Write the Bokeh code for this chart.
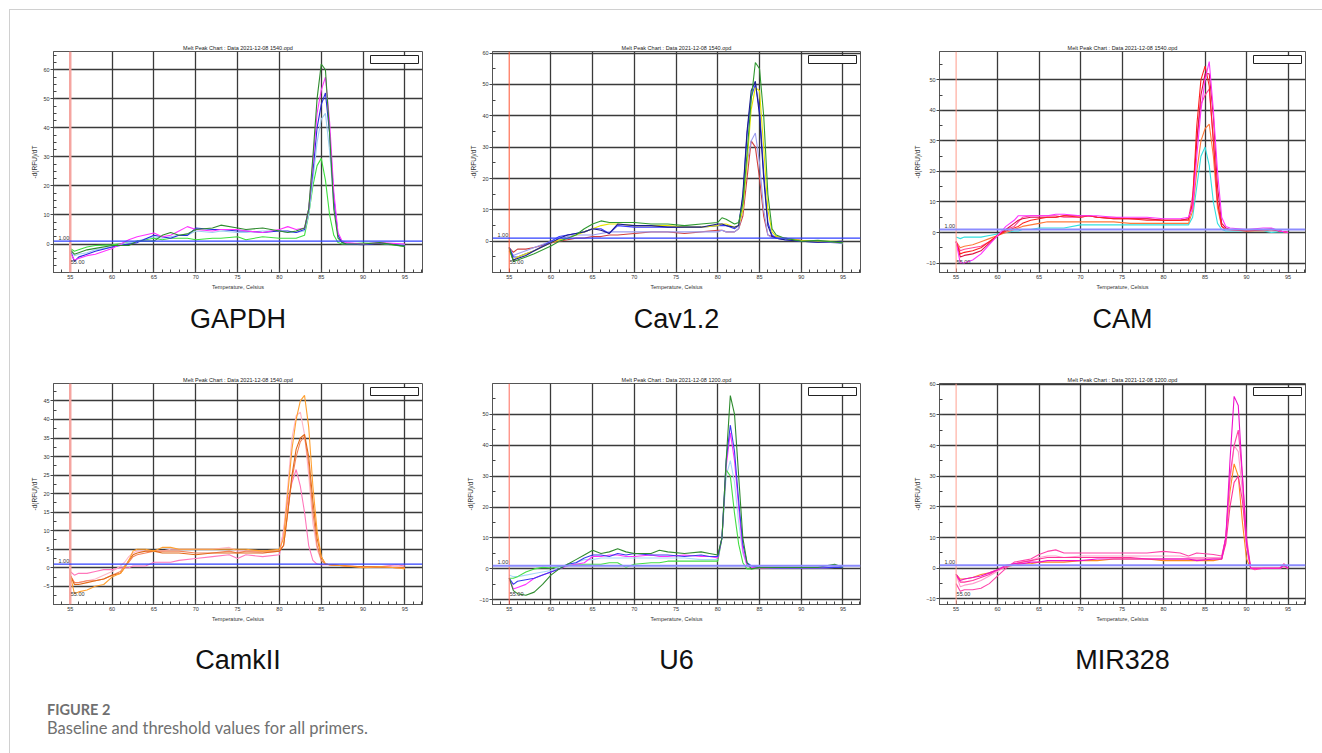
from bokeh.plotting import figure
from bokeh.models import Range1d, SingleIntervalTicker, FixedTicker, Span, Label, BoxAnnotation, Title, Div
from bokeh.layouts import row, column
from bokeh.embed import file_html
from bokeh.resources import INLINE

# ---------------- data ----------------
panel_names = ["GAPDH", "Cav1.2", "CAM", "CamkII", "U6", "MIR328"]
chart_titles = ["Melt Peak Chart : Data 2021-12-08 1540.opd"] * 4 + ["Melt Peak Chart : Data 2021-12-08 1200.opd"] * 2

# GAPDH
t1 = [55, 55.5, 56, 57, 58, 60, 62, 63, 65, 66, 67, 68, 69, 70, 72, 73, 75, 76, 78, 80, 81, 82, 83, 83.5, 84, 84.5, 85, 85.5, 86, 86.5, 87, 87.5, 88, 90, 92, 95]
gapdh_ltgreen = [-1.5, -2.5, -2, -1, -0.5, -0.3, 0.5, 1, 2, 1.5, 2, 2, 2, 1.5, 2, 2, 2.5, 1.5, 2.5, 2, 2, 2, 3, 10, 20, 27, 29.5, 22, 10, 3, 0.5, 0, 0, 0.3, 0.2, -0.8]
gapdh_ltblue = [-2, -4, -3.5, -3, -2, -1, 0.5, 1, 2.5, 2, 2.5, 3, 3, 4.5, 4, 4.5, 4, 4, 4.5, 4.5, 4, 4, 4.5, 10, 22, 35, 43, 45, 32, 14, 3, 0.5, 0.2, 0, 0.3, -0.3]
gapdh_blue = [-2, -6, -4.5, -3.5, -2.5, -1, 0, 0.5, 3, 2.5, 2, 3, 3, 5.5, 5, 5, 4.5, 4.5, 4, 4.5, 4.5, 4, 5, 12, 25, 40, 48, 52, 38, 16, 3, 0.5, 0, -0.2, 0.3, -0.5]
gapdh_magenta = [-3, -5.5, -5, -4, -3.5, -1.5, 1.5, 2.5, 3.8, 2.5, 3, 4.5, 6, 5, 4.5, 5, 5, 4.5, 4, 5, 6, 5, 5.5, 12, 28, 45, 53, 57.5, 42, 18, 4, 1, 0.5, 0, 0.5, 0]
gapdh_dkgreen = [-2, -3.5, -3, -2, -1.5, -0.5, -0.5, 1, 1, 3, 4, 3, 3.5, 5, 5.5, 6.5, 5.5, 5, 5.5, 4.5, 4, 4.5, 5.5, 12, 30, 50, 62, 60, 38, 12, 2, 0.5, 0, 0, 0.5, -0.8]

# Cav1.2
t2 = [55, 55.5, 56, 57, 58, 60, 61, 62, 63, 64, 65, 66, 67, 68, 70, 72, 74, 76, 78, 80, 80.5, 81, 82, 82.5, 83, 83.5, 84, 84.5, 85, 85.5, 86, 86.5, 87, 88, 90, 92, 95]
cav_red = [-2, -3.5, -2.5, -2.5, -2, -0.5, 0, 0.5, 1, 1, 1.5, 1.5, 2, 2, 2.5, 3, 3, 2.5, 3, 3.5, 3.5, 3, 3, 4, 8, 20, 32, 30, 20, 8, 2, 1.5, 1.5, 1, 0.3, 0, -0.5]
cav_ltpurple = [-2, -4.5, -4, -3, -2, 0, 0.5, 1.5, 2, 2, 2, 2.5, 3, 3, 3, 3, 3, 3, 3, 3, 3.5, 3, 3, 4, 10, 25, 32, 34.5, 25, 10, 2, 1, 1, 1, 0, 0, -0.8]
cav_blue = [-2, -5, -5, -4, -3, 0, 1.5, 2, 2.5, 3, 4, 4, 2.5, 5, 4.5, 4.5, 4.5, 4.5, 4.5, 5, 5, 5, 4, 5, 14, 34, 46, 50, 42, 22, 6, 2, 1, 0.5, 0, -0.3, 0]
cav_yellow = [-3, -6, -5, -4, -3, -0.5, 0.5, 1, 2, 3, 4, 5, 5.5, 5.5, 5, 5, 5, 4.5, 4.5, 5, 5.5, 5.5, 4.5, 5, 10, 25, 42, 49, 48, 30, 10, 3, 1.5, 1, 0.2, 0, 0]
cav_navy = [-2, -6, -5.5, -4.5, -3, -0.5, 1, 2, 2.5, 3, 4, 3.5, 2.5, 5.5, 5, 5, 4.5, 4.5, 4.5, 5.5, 5.5, 5, 4.5, 5, 15, 35, 48, 51, 40, 20, 5, 1.5, 1, 0.5, 0, -0.3, 0]
cav_dkgreen = [-2, -6.5, -6, -5, -4, -1.5, 0, 1, 2, 4, 5.5, 6.5, 6, 6, 6, 5.5, 5.5, 5, 5.5, 6, 7.5, 7, 5.5, 6, 12, 28, 45, 57, 55, 40, 15, 4, 2, 1, 0, 0.3, -0.5]

# CAM
t3 = [55, 55.5, 56, 57, 58, 59, 60, 61, 62, 62.5, 63, 64, 65, 66, 67, 68, 70, 71, 72, 74, 76, 78, 80, 82, 83, 83.5, 84, 84.5, 85, 85.5, 86, 86.5, 87, 87.5, 88, 90, 92, 93, 94, 95]
cam_cyan = [-1.5, -2, -1.5, -1.5, -1.5, -1, -0.5, 0, 0.5, 0.5, 1, 1, 1.5, 1.5, 1.5, 1.5, 2.5, 2.5, 2.5, 2.5, 2.5, 2.5, 2.5, 2.5, 2.5, 5, 15, 25, 28, 22, 10, 3, 1, 0.5, 0.5, 0.5, 0.5, 0, 0.3, 0]
cam_orange = [-3, -5, -4.5, -4, -3, -2, -1, 0, 1, 1.5, 2, 2.5, 3, 3.5, 3.5, 3.5, 3.5, 3.5, 3.5, 3.5, 3, 3, 3, 3, 3, 7, 20, 30, 34, 35.5, 25, 8, 2, 1, 0.8, 0.5, 0.5, 0.8, 0.5, 0]
cam_pink = [-3, -6, -5.5, -5, -4.5, -3, -1, 1, 2, 3.5, 5, 5.5, 5.5, 5.5, 5.5, 5, 5, 5.5, 5, 5, 4.5, 4.5, 4, 4, 4.5, 12, 30, 42, 45, 47, 30, 10, 2, 1, 1, 0.8, 1, 1, 0.5, 0]
cam_crimson = [-3, -8, -7.5, -7, -6, -3.5, -1, 1, 3, 4, 4.5, 5, 5, 5, 5, 5.5, 5.5, 5.5, 5, 4.5, 4.5, 4.5, 4, 4, 4.5, 9, 30, 45, 52, 52, 38, 15, 3, 1.5, 1, 1, 1, 1.2, 0.5, 0]
cam_red = [-3, -7, -6.5, -6, -5, -3, -1, 0.5, 1.5, 2, 3, 4, 4.5, 5, 5, 5.5, 5, 5.5, 5, 4.5, 4.5, 4, 4, 4, 4, 10, 35, 50, 54.5, 48, 30, 10, 2, 1, 1, 0.5, 0.8, 1, 0.5, 0]
cam_magenta = [-3, -10, -10, -9, -7, -4, -1, 2, 4, 5.5, 5.5, 5.5, 5.5, 5.5, 6, 6, 5.5, 5.5, 5.5, 5, 5, 5, 4.5, 4.5, 5, 8, 25, 40, 50, 56, 40, 20, 5, 2, 1.5, 1, 1.5, 1.5, 0.5, 0]

# CamkII
t4 = [55, 55.5, 56, 57, 58, 59, 60, 61, 61.5, 62, 62.5, 63, 64, 65, 66, 67, 68, 70, 72, 74, 75, 76, 78, 80, 80.5, 81, 81.5, 82, 82.5, 83, 83.5, 84, 84.5, 85, 85.5, 86, 88, 90, 92, 94, 95]
camk_pink = [-1, -2, -1.5, -1.5, -1, -0.5, -0.5, 0, 0, 0, 0.5, 0.5, 0.5, 1.5, 1.5, 1.5, 2, 2.5, 3, 3.5, 2.5, 3.5, 3, 3.5, 10, 18, 23, 26.5, 22, 15, 6, 2, 1, 0.8, 0.8, 0.8, 0.5, 0.3, 0.3, 0.8, 0.5]
camk_ltpink = [-2, -4, -4, -3.5, -3, -2, -1, 0.5, 1.5, 3, 4, 4.5, 4.5, 4.5, 4.5, 5, 5, 5, 5, 5.5, 4.5, 4.5, 4, 4.5, 10, 22, 35, 41, 42, 36, 25, 12, 5, 2, 1, 0.8, 0.5, 0.3, 0.3, 0.5, 0]
camk_salmon = [-2, -4, -4, -3.5, -3.5, -3, -2, -1, 0.5, 1.5, 3, 3.5, 4, 4.5, 4.5, 4.5, 4.5, 4, 4, 4.5, 4, 4.5, 4.5, 4.5, 6, 15, 24, 30, 34, 35.5, 28, 15, 6, 2, 1, 0.8, 0.5, 0.3, 0.3, 0, 0]
camk_dkorange = [-2, -4.5, -4.5, -4, -3.5, -3, -2, -1.5, 0, 2, 3.5, 4, 4.5, 4.5, 4, 4, 4, 3.5, 4, 4, 4, 4, 4, 4.5, 6, 15, 25, 32, 35, 36, 30, 18, 8, 3, 1, 0.8, 0.5, 0.2, 0.3, 0, 0]
camk_orange = [-2, -7, -6.5, -6, -5, -4.5, -2.5, -1.5, 0, 2, 4.5, 5, 5, 4.5, 5.5, 5.5, 5, 5, 5, 5, 5, 5, 4.5, 5, 8, 20, 32, 40, 45, 46.5, 38, 22, 10, 3, 1, 0.8, 0.5, 0, 0.3, 0, -0.3]

# U6
t5 = [55, 55.5, 56, 57, 58, 59, 60, 61, 62, 63, 64, 65, 66, 67, 68, 69, 70, 72, 73, 74, 76, 78, 79, 80, 80.5, 81, 81.5, 82, 82.5, 83, 83.5, 84, 85, 87, 90, 92, 94, 95]
u6_ltblue = [-2, -2.5, -2.5, -2, -1.5, -1, -0.5, 0.5, 1.5, 2, 3, 3, 3.5, 3.5, 3.5, 3.5, 3.5, 3.5, 3.5, 3.5, 3.5, 3, 3, 3, 10, 30, 35, 28, 15, 5, 1.5, 1, 0.5, 0.3, 0.3, 0.3, 0.5, 0.5]
u6_ltgreen = [-3, -3, -2.5, -1, 0, 0.5, 0.3, 0.8, 1, 1.5, 1.5, 1.5, 1.5, 2, 2, 0.5, 1.5, 2, 2, 2.5, 2.5, 2.5, 2.5, 2.5, 10, 32, 30, 18, 8, 2, 0, 0, 0.3, 0.3, 0.3, 0.3, 0.5, 0.5]
u6_magenta = [-3, -6.5, -6, -5, -3, -2, -1, 0, 1, 1.5, 2, 4, 4, 4.5, 4.5, 4, 4, 4.5, 4, 4, 4.5, 4, 4, 3.5, 10, 33, 44, 35, 20, 6, 1, 0.5, 0.3, 0.3, 0.3, 0.3, 0.5, 0.5]
u6_blue = [-3, -5, -4, -3.5, -3, -2, -1, 0, 1.5, 2, 3.5, 4.5, 4.5, 4, 5, 4.5, 5, 4.5, 4.5, 4.5, 4, 4.5, 4, 4, 10, 35, 46.5, 38, 22, 8, 2, 1, 0.5, 0.3, 0.3, 0.3, 0.5, 0.5]
u6_dkgreen = [-3, -7, -8, -8.5, -7.5, -5, -2, 0, 1.5, 3, 4.5, 6, 5, 5.5, 6.5, 5.5, 5, 5, 6, 5.5, 5, 5.5, 5, 4.5, 10, 35, 56, 50, 30, 10, 2, 0, 0.5, 0.5, 0.5, 0.5, 1.5, 0.5]

# MIR328
t6 = [55, 55.5, 56, 57, 58, 59, 60, 61, 62, 63, 64, 65, 66, 67, 68, 70, 72, 74, 76, 78, 80, 82, 83, 84, 86, 87, 87.5, 88, 88.5, 89, 89.5, 90, 90.5, 91, 92, 93, 94, 94.5, 95]
mir_orange = [-2, -3.5, -3.5, -3, -2, -1.5, -0.5, 0.5, 1, 1.5, 1.5, 2, 2, 2, 2, 2.5, 2.5, 3, 3, 3, 2.5, 2.5, 2.5, 2.5, 2.5, 3, 10, 25, 34, 30, 15, 3, 0, 0, 0, 0, 0, 0.5, 0]
mir_ltpink = [-2, -6, -5.5, -5, -4, -2.5, -1, 0.5, 1.5, 2, 2.5, 3.5, 4, 4, 3.5, 4, 4, 4, 4, 4, 4, 4, 3.5, 3.5, 3.5, 3.5, 10, 28, 40, 38, 25, 6, 0, 0, 0, 0, 0, 0.5, 0]
mir_hotpink = [-2, -4.5, -4.5, -4, -3, -2, -0.5, 0.5, 1.5, 2, 2.5, 3, 3.5, 3.5, 3.5, 3.5, 3.5, 3.5, 3.5, 3, 3, 3, 3, 3, 3, 3, 8, 20, 28, 30, 22, 8, 0, 0, 0, 0, 0, 1, 0]
mir_pink = [-5, -7.5, -7, -7, -6.5, -5, -2.5, 0, 2, 2.5, 3, 4.5, 5.5, 6, 5, 5, 5, 5, 5, 5, 5.5, 5, 4, 5, 4.5, 4, 10, 30, 40, 45, 30, 10, 0, -0.5, 0, 0, 0, 1.5, 0]
mir_magenta = [-2, -4, -3.5, -3, -2.5, -1.5, -0.5, 1, 1.5, 1.5, 2, 2, 2.5, 2.5, 2.5, 2.5, 3, 3, 3, 3, 3, 3, 3, 2.5, 3, 3, 10, 35, 56, 53, 30, 8, 0, 0, 0, 0, 0, 1, 0]

BASELINE_T = 55.0
THRESHOLD = 1.0
X_START, X_END = 53.0, 97.1
X_GRID_TICKS = [60, 65, 70, 75, 80, 85, 90, 95]

SMALL = "Liberation Sans"
SMALL_SIZE = "5.5px"


def make_panel(title_text, name, temps, curves, y_start, y_end, y_interval, y_minor,
               width, height, left, right, top, bottom, name_standoff,
               base_color, base_width, thr_color, thr_width):
    p = figure(width=width, height=height,
               x_range=Range1d(X_START, X_END), y_range=Range1d(y_start, y_end),
               output_backend="svg", toolbar_location=None,
               min_border_left=left, min_border_right=right,
               min_border_top=top, min_border_bottom=bottom)
    fw = width - left - right
    fh = height - top - bottom
    ppx = fw / (X_END - X_START)
    ppy = fh / (y_end - y_start)

    p.background_fill_color = "white"
    p.border_fill_color = "white"
    p.outline_line_color = "#555555"
    p.outline_line_width = 1

    p.title.text = title_text
    p.title.align = "center"
    p.title.text_font = SMALL
    p.title.text_font_size = SMALL_SIZE
    p.title.text_font_style = "normal"
    p.title.text_color = "#222222"
    p.title.standoff = 1

    xt = SingleIntervalTicker(interval=5, num_minor_ticks=5)
    yt = SingleIntervalTicker(interval=y_interval, num_minor_ticks=y_minor)
    p.xaxis.ticker = xt
    p.yaxis.ticker = yt
    p.xgrid.ticker = FixedTicker(ticks=X_GRID_TICKS)
    p.ygrid.ticker = yt
    for g in (p.xgrid, p.ygrid):
        g.grid_line_color = "#3a3a3a"
        g.grid_line_width = 1.3

    for ax in (p.xaxis, p.yaxis):
        ax.axis_line_color = "#555555"
        ax.major_tick_line_color = "#444444"
        ax.minor_tick_line_color = "#444444"
        ax.major_label_text_font = SMALL
        ax.major_label_text_font_size = SMALL_SIZE
        ax.major_label_text_color = "#333333"
        ax.axis_label_text_font = SMALL
        ax.axis_label_text_font_style = "normal"
        ax.axis_label_text_color = "#333333"
        ax.axis_label_standoff = 2
        ax.major_label_standoff = 1
    p.xaxis.axis_label = "Temperature, Celsius"
    p.xaxis.axis_label_text_font_size = SMALL_SIZE
    p.xaxis.major_tick_in = 4
    p.xaxis.major_tick_out = 0
    p.xaxis.minor_tick_in = 3
    p.xaxis.minor_tick_out = 0
    p.xaxis.major_label_standoff = 2
    p.yaxis.axis_label = "-d(RFU)/dT"
    p.yaxis.axis_label_text_font_size = "6.5px"
    p.yaxis.major_tick_in = 0
    p.yaxis.major_tick_out = 3
    p.yaxis.minor_tick_in = 3
    p.yaxis.minor_tick_out = 0

    p.add_layout(Span(location=BASELINE_T, dimension="height",
                      line_color=base_color, line_width=base_width))
    p.add_layout(Span(location=THRESHOLD, dimension="width",
                      line_color=thr_color, line_width=thr_width))

    for ys, color in curves:
        n = min(len(temps), len(ys))
        p.line(temps[:n], ys[:n], line_color=color, line_width=1.1)

    p.add_layout(Label(x=BASELINE_T - 1.0 / ppx, y=THRESHOLD + 1.5 / ppy, text="1.00",
                       text_align="right", text_baseline="bottom",
                       text_font=SMALL, text_font_size=SMALL_SIZE, text_color="#333333"))
    p.add_layout(Label(x=BASELINE_T + 0.5 / ppx, y=y_start + 10.5 / ppy, text="55.00",
                       text_align="left", text_baseline="middle",
                       text_font=SMALL, text_font_size=SMALL_SIZE, text_color="#333333"))
    p.add_layout(BoxAnnotation(left=X_END - 52 / ppx, right=X_END - 4 / ppx,
                               top=y_end - 4 / ppy, bottom=y_end - 12 / ppy,
                               fill_color="white", fill_alpha=1.0,
                               line_color="#222222", line_width=1, line_alpha=1.0))

    p.add_layout(Title(text=name, align="center", text_font="Liberation Sans",
                       text_font_size="27px", text_font_style="normal",
                       text_color="#111111", standoff=name_standoff), "below")
    return p


R1H, R1T, R1B = 338, 41, 76
R2H, R2T, R2B = 348, 35, 92
C1 = (430, 43, 18)
C2 = (440, 52, 20)
C3 = (430, 59, 5)

p1 = make_panel(chart_titles[0], panel_names[0], t1,
                [(gapdh_ltgreen, "#3ee03e"), (gapdh_ltblue, "#9fd0f0"), (gapdh_blue, "#2a2ae0"),
                 (gapdh_magenta, "#ff33ff"), (gapdh_dkgreen, "#2e8b2e")],
                -9.8, 66.3, 10, 4, C1[0], R1H, C1[1], C1[2], R1T, R1B, 19,
                "#f5a5a0", 2.5, "#3040ff", 1.3)
p2 = make_panel(chart_titles[1], panel_names[1], t2,
                [(cav_red, "#d04040"), (cav_ltpurple, "#9c9cf0"), (cav_blue, "#3a3aff"),
                 (cav_yellow, "#e6e600"), (cav_navy, "#1c1c8c"), (cav_dkgreen, "#2f9a2f")],
                -9.95, 60.5, 10, 2, C2[0], R1H, C2[1], C2[2], R1T, R1B, 19,
                "#ff5533", 1, "#3040ff", 1.3)
p3 = make_panel(chart_titles[2], panel_names[2], t3,
                [(cam_cyan, "#33e0e0"), (cam_orange, "#ff7a3a"), (cam_pink, "#ff4499"),
                 (cam_crimson, "#dd1144"), (cam_red, "#ff2020"), (cam_magenta, "#ff33ff")],
                -13.1, 59.3, 10, 2, C3[0], R1H, C3[1], C3[2], R1T, R1B, 19,
                "#ff9a8a", 1, "#8c8cff", 2)
p4 = make_panel(chart_titles[3], panel_names[3], t4,
                [(camk_pink, "#ff77bb"), (camk_ltpink, "#ffb6c8"), (camk_salmon, "#f4845a"),
                 (camk_dkorange, "#e06a1a"), (camk_orange, "#ffa030")],
                -9.9, 49.7, 5, 2, C1[0], R2H, C1[1], C1[2], R2T, R2B, 37,
                "#f5a5a0", 2.5, "#3040ff", 1.3)
p5 = make_panel(chart_titles[4], panel_names[4], t5,
                [(u6_ltblue, "#a8d8f8"), (u6_ltgreen, "#44dd44"), (u6_magenta, "#ff33ff"),
                 (u6_blue, "#3a3aee"), (u6_dkgreen, "#2e8b2e")],
                -11.5, 59.9, 10, 2, C2[0], R2H, C2[1], C2[2], R2T, R2B, 37,
                "#ff6a5a", 1, "#8c8cff", 2)
p6 = make_panel(chart_titles[5], panel_names[5], t6,
                [(mir_orange, "#ff8822"), (mir_ltpink, "#ff99cc"), (mir_hotpink, "#ff3399"),
                 (mir_pink, "#ff44aa"), (mir_magenta, "#ee11cc")],
                -11.8, 60.2, 10, 2, C3[0], R2H, C3[1], C3[2], R2T, R2B, 37,
                "#ffa090", 1, "#8c8cff", 2)

caption_html = (
    '<div style="position:relative;width:1312px;height:54px;'
    'font-family:Lato,\'Open Sans\',sans-serif;color:#707070;">'
    '<div style="position:absolute;left:32px;top:0px;font-size:14.5px;'
    'font-weight:bold;line-height:18px;white-space:nowrap;">FIGURE 2</div>'
    '<div style="position:absolute;left:32px;top:17px;font-size:16.5px;'
    'line-height:20px;white-space:nowrap;">Baseline and threshold values for all primers.</div>'
    '</div>'
)
caption = Div(text=caption_html, width=1312, height=54)

root = column(row(p1, p2, p3), row(p4, p5, p6), caption,
              margin=(9, 0, 0, 9),
              styles={"border-top": "1px solid #d0d0d0", "border-left": "1px solid #d0d0d0"})

open("out.html", "w").write(file_html(root, INLINE))
